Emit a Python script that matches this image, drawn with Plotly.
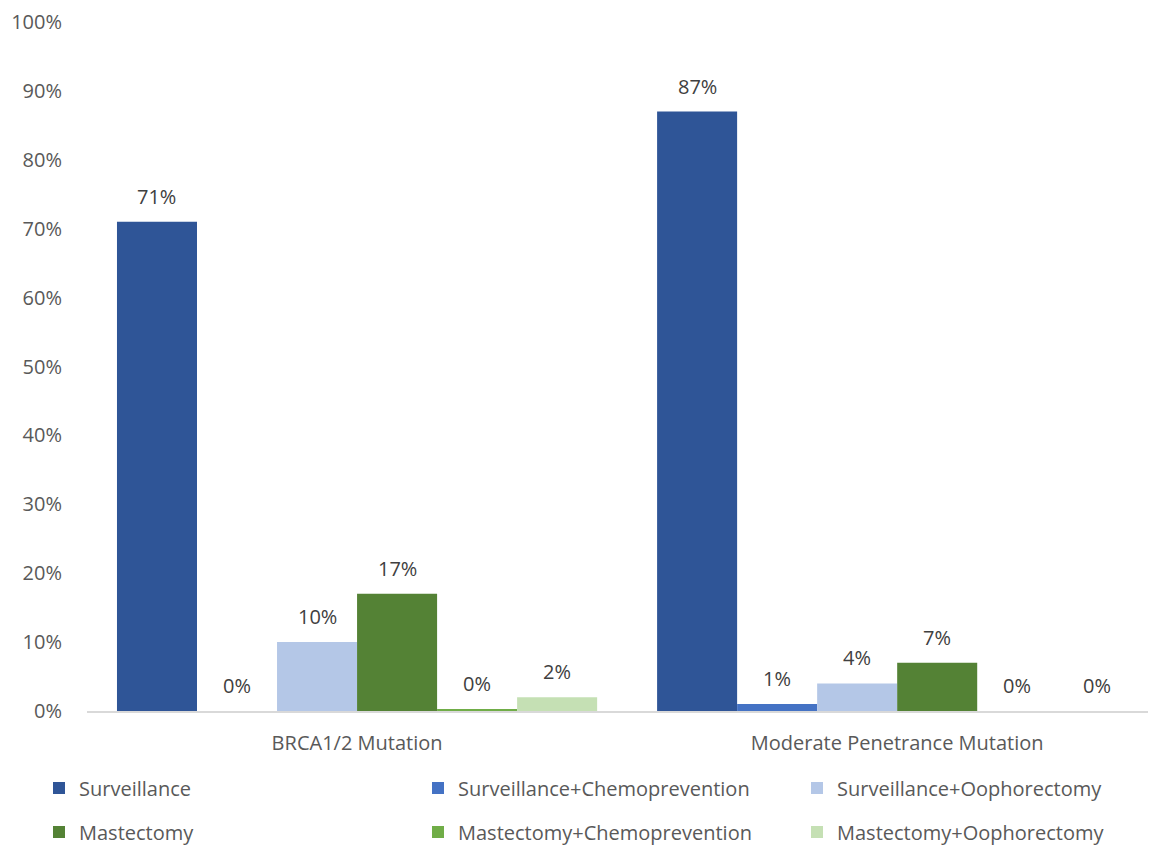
import plotly.graph_objects as go

categories = ["BRCA1/2 Mutation", "Moderate Penetrance Mutation"]
series_names = [
    "Surveillance",
    "Surveillance+Chemoprevention",
    "Surveillance+Oophorectomy",
    "Mastectomy",
    "Mastectomy+Chemoprevention",
    "Mastectomy+Oophorectomy",
]
surveillance = [71, 87]
surveillance_chemo = [0, 1]
surveillance_ooph = [10, 4]
mastectomy = [17, 7]
mastectomy_chemo = [0.3, 0]
mastectomy_ooph = [2, 0]
# labels as printed on the chart
label_values = [[71, 87], [0, 1], [10, 4], [17, 7], [0, 0], [2, 0]]
y_ticks = list(range(0, 101, 10))

colors = ["#2F5597", "#4472C4", "#B4C7E7", "#548235", "#70AD47", "#C5E0B4"]
series_values = [surveillance, surveillance_chemo, surveillance_ooph,
                 mastectomy, mastectomy_chemo, mastectomy_ooph]

BARGAP = 0.111
W, H = 1156, 846
# the page body adds an 8px margin, so the figure is shifted by that much
PAGE_PAD = 8

fig = go.Figure()
n = len(series_names)
slot = (1 - BARGAP) / n
for i, (name, vals, labs, color) in enumerate(zip(series_names, series_values, label_values, colors)):
    fig.add_trace(
        go.Bar(
            x=categories,
            y=vals,
            name=name,
            showlegend=True,
            legend="legend" if i == 0 else f"legend{i + 1}",
            marker=dict(color=color, line=dict(width=0)),
        )
    )
    # data labels sit above each bar, centred on the bar's slot in the group
    for c, (v, lab) in enumerate(zip(vals, labs)):
        fig.add_annotation(
            x=c + (i - (n - 1) / 2) * slot,
            y=v,
            xref="x",
            yref="y",
            text=f"{lab}%",
            showarrow=False,
            yanchor="bottom",
            yshift=10,
            font=dict(size=20, color="#404040"),
        )

# legend: 3 columns x 2 rows, one single-entry legend per slot
col_x = [51, 430, 809]
row_y = [780, 824]
legends = {}
for i in range(n):
    key = "legend" if i == 0 else f"legend{i + 1}"
    legends[key] = dict(
        orientation="h",
        xref="container",
        yref="container",
        x=(col_x[i % 3] - 20) / W,
        xanchor="left",
        y=1 - row_y[i // 3] / H,
        yanchor="middle",
        font=dict(size=20, color="#595959"),
        itemwidth=30,
        bgcolor="rgba(0,0,0,0)",
    )

fig.update_layout(
    barmode="group",
    bargap=BARGAP,
    bargroupgap=0,
    width=W,
    height=H,
    showlegend=True,
    margin=dict(l=87 - PAGE_PAD, r=0, t=22 - PAGE_PAD, b=H - (711 - PAGE_PAD), autoexpand=False),
    plot_bgcolor="white",
    paper_bgcolor="white",
    font=dict(family="Open Sans, Liberation Sans, sans-serif", size=20, color="#595959"),
    xaxis=dict(
        range=[-0.5, 1.494],
        showline=True,
        linecolor="#D9D9D9",
        linewidth=1.5,
        ticks="",
        ticklabelstandoff=13,
        automargin=False,
        tickfont=dict(size=20, color="#595959"),
        showgrid=False,
    ),
    yaxis=dict(
        range=[0, 100],
        tickvals=y_ticks,
        ticktext=[f"{t}%" for t in y_ticks],
        showgrid=False,
        zeroline=False,
        showline=False,
        ticks="",
        automargin=False,
        ticklabelstandoff=24,
        tickfont=dict(size=20, color="#595959"),
    ),
    **legends,
)

fig.write_html("out.html")
